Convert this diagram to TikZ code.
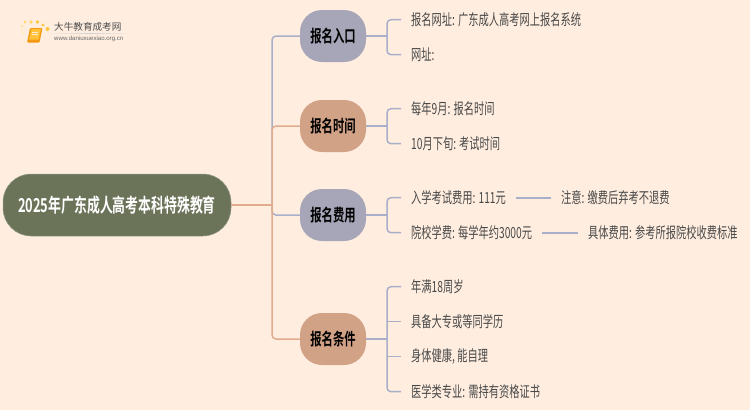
\documentclass[tikz,border=0pt]{standalone}
\usepackage{fontspec}
\setmainfont[FakeStretch=0.67,BoldFont={Noto Sans CJK SC Bold},BoldFeatures={FakeStretch=0.67}]{Noto Sans CJK SC}
\newfontfamily\logofont{Noto Sans CJK SC}
\newfontfamily\latinfont{Liberation Sans}
\usetikzlibrary{calc}
\definecolor{bgc}{HTML}{FFEEE0}
\definecolor{rootc}{HTML}{6B7359}
\definecolor{bluec}{HTML}{A6A6B8}
\definecolor{salmc}{HTML}{D2A287}
\definecolor{linkb}{HTML}{A9AEC9}
\definecolor{links}{HTML}{E0AC8E}
\definecolor{textc}{HTML}{484848}
\definecolor{dota}{HTML}{FFE9A8}
\definecolor{dotb}{HTML}{FFD766}
\definecolor{dotc}{HTML}{FFC83C}
\definecolor{bk}{HTML}{F39A12}
\definecolor{bkl}{HTML}{FFC23A}
\tikzset{
  rootbox/.style={fill=rootc,draw=rootc!70!white,line width=.5pt,rounded corners=28pt,minimum width=228pt,minimum height=62pt,inner sep=0pt,text=white,font=\fontsize{19.2}{21}\selectfont\bfseries},
  branchbox/.style={rounded corners=22pt,minimum width=66pt,minimum height=52pt,inner sep=0pt,text=black,font=\fontsize{16.9}{18}\selectfont\bfseries},
  bluebox/.style={branchbox,fill=bluec},
  salmbox/.style={branchbox,fill=salmc},
  leaf/.style={anchor=west,inner sep=0pt,yshift=-.7pt,text=textc,font=\fontsize{15.3}{17}\selectfont},
  blink/.style={draw=linkb,line width=1.5pt,rounded corners=4pt},
  slink/.style={draw=links,line width=1.5pt,rounded corners=4pt}
}
\begin{document}
\begin{tikzpicture}[x=1pt,y=-1pt]
\useasboundingbox (0,0) rectangle (750,410);
\fill[bgc] (0,0) rectangle (750,410);

% logo
\foreach \px/\py/\r/\c in {23/33/.8/dota,21.5/30/1/dota,22/26/1/dotb,25/22/1.5/dotb,31/22/1.8/dotb,37.5/22/1.8/dotc,43/25/1.7/dotc,47.5/29/2/dotc,24/42/.8/dota}
  \fill[\c] (\px,\py) circle (\r);
\fill[bk,rounded corners=1pt] (30,28) -- (42.5,28) -- (39.5,42.5) -- (27,42.5) -- cycle;
\fill[bkl] (31.5,29) -- (41,29) -- (38.5,39.5) -- (29,39.5) -- cycle;
\draw[white!80!bk,line width=.5pt] (32,32) -- (38,32) (31.5,34.5) -- (37.5,34.5);
\shade[left color=bgc,right color=bgc,middle color=black!18] (46,33) rectangle (133,33.6);
\node[inner sep=0pt,anchor=west,text=black!70] (logotitle) at (54,27) {\logofont\fontsize{9.6}{11}\selectfont 大牛教育成考网};
\node[inner sep=0pt,anchor=west,text=black!60] (logourl) at (54,39) {\latinfont\fontsize{6.1}{7}\selectfont www.daniuxuexiao.org.cn};

% nodes
\node[rootbox] (root) at (117,205) {2025年广东成人高考本科特殊教育};
\node[bluebox] (b1) at (333,36) {报名入口};
\node[salmbox] (b2) at (333,126) {报名时间};
\node[bluebox] (b3) at (333,215) {报名费用};
\node[salmbox] (b4) at (333,339) {报名条件};

\node[leaf] (l11) at (411,19) {报名网址: 广东成人高考网上报名系统};
\node[leaf] (l12) at (411,54) {网址:};
\node[leaf] (l21) at (411,108) {每年9月: 报名时间};
\node[leaf] (l22) at (411,143) {10月下旬: 考试时间};
\node[leaf] (l31) at (411,197) {入学考试费用: 111元};
\node[leaf] (l32) at (411,232) {院校学费: 每学年约3000元};
\node[leaf] (l31x) at (561,197) {注意: 缴费后弃考不退费};
\node[leaf] (l32x) at (588,232) {具体费用: 参考所报院校收费标准};
\node[leaf] (l41) at (411,286) {年满18周岁};
\node[leaf] (l42) at (411,321) {具备大专或等同学历};
\node[leaf] (l43) at (411,356) {身体健康, 能自理};
\node[leaf] (l44) at (411,391) {医学类专业: 需持有资格证书};

% trunk
\coordinate (tr) at (272,205);
\path[blink] (b1.west) -- (tr |- b1) -- (tr |- b3) -- (b3.west);
\path[slink] (root.east) -- (tr);
\path[slink] (b2.west) -- (tr |- b2) -- (tr |- b4) -- (b4.west);

% brackets
\coordinate (j) at (387,0);
\foreach \b/\t/\u in {b1/l11/l12,b2/l21/l22,b3/l31/l32,b4/l41/l44}{
  \path[blink] (\b.east) -- (j |- \b);
  \path[blink] ($(\t.west)+(-10,0)$) -- (j |- \t) -- (j |- \u) -- ($(\u.west)+(-10,0)$);
}
\path[blink] (j |- l42) -- ($(l42.west)+(-10,0)$);
\path[blink] (j |- l43) -- ($(l43.west)+(-10,0)$);

\path[blink,line width=2pt] ($(l31.east)+(10,0)$) -- ($(l31x.west)+(-10,0)$);
\path[blink,line width=2pt] ($(l32.east)+(10,0)$) -- ($(l32x.west)+(-10,0)$);
\end{tikzpicture}
\end{document}
